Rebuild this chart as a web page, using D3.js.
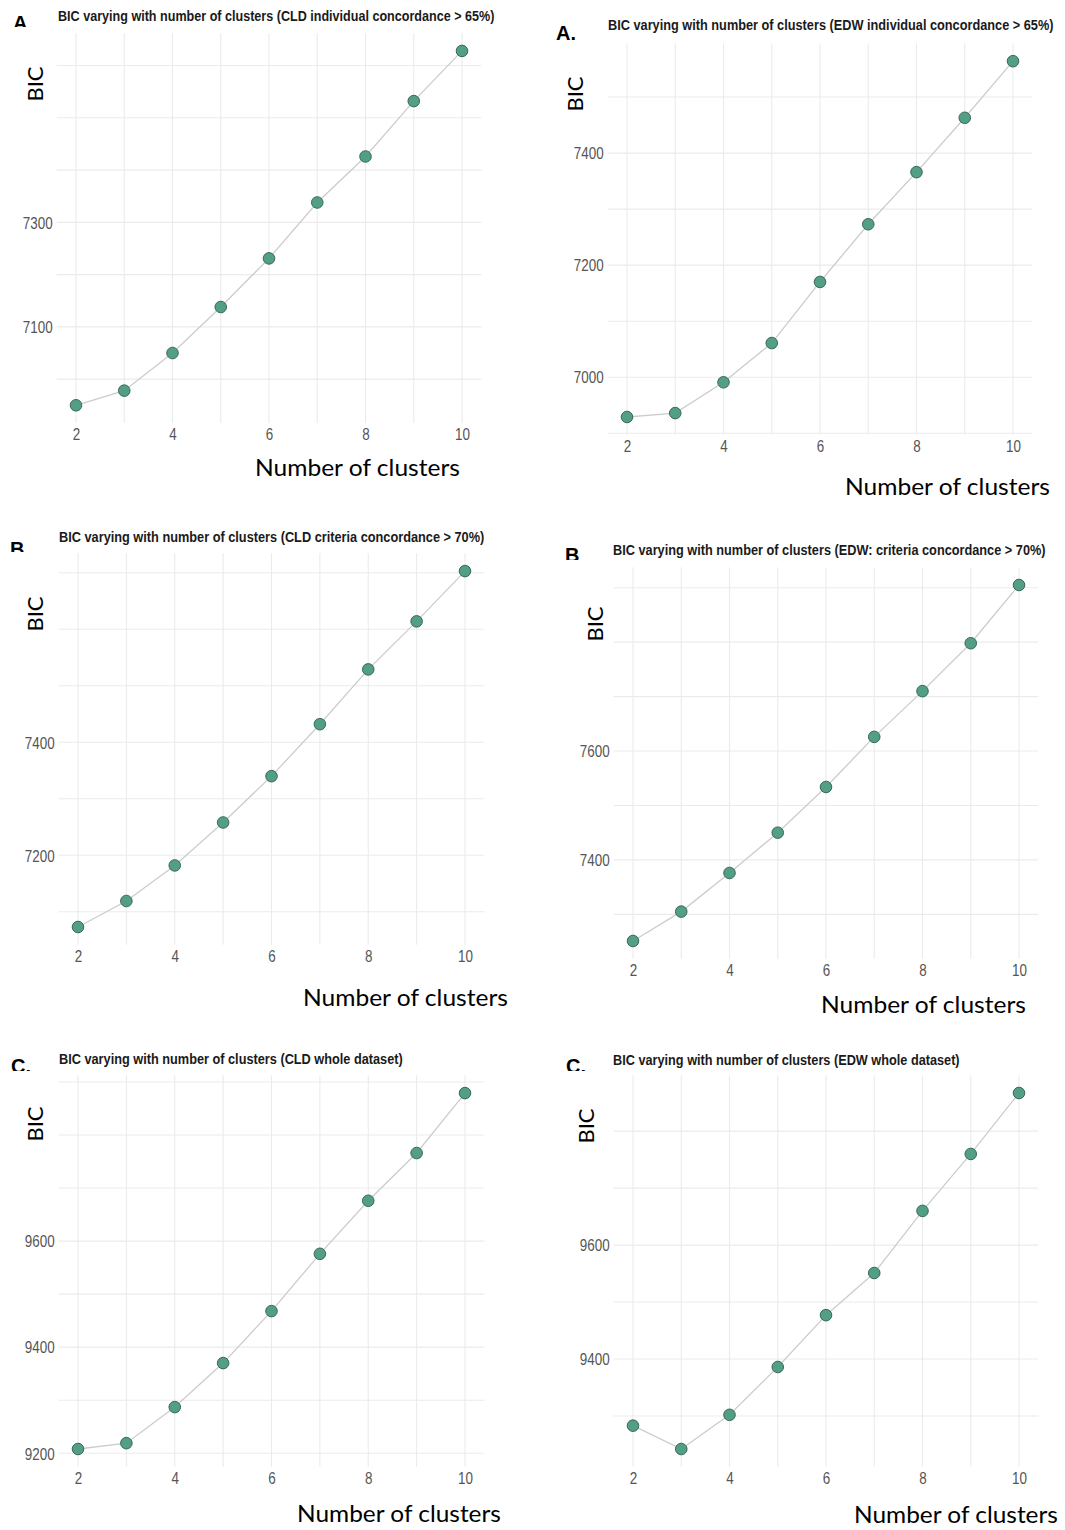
<!DOCTYPE html>
<html>
<head>
<meta charset="utf-8">
<script src="https://cdn.jsdelivr.net/npm/d3@7"></script>
<style>
  html, body { margin: 0; padding: 0; background: #ffffff; }
  svg { display: block; }
</style>
</head>
<body>
<svg id="chart" width="1065" height="1530"></svg>
<script>
// ---------- DATA ----------
const clusters = [2, 3, 4, 5, 6, 7, 8, 9, 10];
const xTickLabels = [2, 4, 6, 8, 10];

const bicCldIndividual = [6950, 6978, 7050, 7138, 7231, 7338, 7426, 7532, 7628];
const bicEdwIndividual = [6929, 6936, 6991, 7061, 7170, 7273, 7366, 7463, 7564];
const bicCldCriteria   = [7073, 7119, 7182, 7258, 7340, 7432, 7529, 7614, 7703];
const bicEdwCriteria   = [7251, 7305, 7376, 7450, 7534, 7626, 7710, 7798, 7905];
const bicCldWhole      = [9208, 9219, 9287, 9370, 9468, 9576, 9676, 9766, 9879];
const bicEdwWhole      = [9283, 9242, 9302, 9386, 9477, 9551, 9660, 9760, 9867];

const yTicksCldIndividual = [7100, 7300];
const yTicksEdwIndividual = [7000, 7200, 7400];
const yTicksCldCriteria   = [7200, 7400];
const yTicksEdwCriteria   = [7400, 7600];
const yTicksCldWhole      = [9200, 9400, 9600];
const yTicksEdwWhole      = [9400, 9600];

const panelTitles = [
  "BIC varying with number of clusters (CLD individual concordance > 65%)",
  "BIC varying with number of clusters (EDW individual concordance > 65%)",
  "BIC varying with number of clusters (CLD criteria concordance > 70%)",
  "BIC varying with number of clusters (EDW: criteria concordance > 70%)",
  "BIC varying with number of clusters (CLD whole dataset)",
  "BIC varying with number of clusters (EDW whole dataset)"
];
const panelLetters = ["A.", "A.", "B.", "B", "C.", "C."];
const yAxisTitle = "BIC";
const xAxisTitle = "Number of clusters";

// ---------- LAYOUT ----------
const series = [bicCldIndividual, bicEdwIndividual, bicCldCriteria, bicEdwCriteria, bicCldWhole, bicEdwWhole];
const yTickSets = [yTicksCldIndividual, yTicksEdwIndividual, yTicksCldCriteria, yTicksEdwCriteria, yTicksCldWhole, yTicksEdwWhole];

const layout = [
  { left: 56.7, right: 481.3, top: 33.2, bottom: 423,
    title: { x: 58, y: 21, w: 437 },
    letter: { x: 13, y: 30, clip: 27 },
    bic: { x: 35, y: 84 },
    xlab: { x: 255, y: 476, w: 205 } },
  { left: 607.7, right: 1032.3, top: 43.4, bottom: 434.8,
    title: { x: 608, y: 30, w: 446 },
    letter: { x: 556, y: 40, clip: 60 },
    bic: { x: 575, y: 94 },
    xlab: { x: 845, y: 495, w: 205 } },
  { left: 58.65, right: 484.35, top: 553.3, bottom: 944.8,
    title: { x: 59, y: 542, w: 426 },
    letter: { x: 10, y: 556, clip: 552 },
    bic: { x: 35, y: 614 },
    xlab: { x: 303, y: 1006, w: 205 } },
  { left: 613.7, right: 1038.3, top: 567.2, bottom: 958.8,
    title: { x: 613, y: 555, w: 433 },
    letter: { x: 565, y: 562, clip: 560 },
    bic: { x: 595, y: 624 },
    xlab: { x: 821, y: 1013, w: 205 } },
  { left: 58.65, right: 484.35, top: 1075.3, bottom: 1466.8,
    title: { x: 59, y: 1064, w: 344 },
    letter: { x: 11, y: 1073, clip: 1071 },
    bic: { x: 35, y: 1124 },
    xlab: { x: 297, y: 1522, w: 204 } },
  { left: 613.7, right: 1038.3, top: 1075.2, bottom: 1466.8,
    title: { x: 613, y: 1065, w: 347 },
    letter: { x: 566, y: 1073, clip: 1071 },
    bic: { x: 586, y: 1126 },
    xlab: { x: 854, y: 1523, w: 204 } }
];

const sansFont = "'Liberation Sans', Arial, Helvetica, sans-serif";
const humanist = "Lato, 'Open Sans', 'Noto Sans', sans-serif";
const TICK_SQUEEZE = 0.84;

const svg = d3.select("#chart");
const defs = svg.append("defs");

// place a text at (x,y), horizontally scaled so its rendered width equals w
function fitted(g, x, y, w, str) {
  const t = g.append("text").attr("x", 0).attr("y", 0).text(str);
  return { t, finish: () => {
    const nat = t.node().getComputedTextLength();
    const s = w / nat;
    t.attr("transform", `translate(${x},${y}) scale(${s},1)`);
    return t;
  }};
}

series.forEach((vals, i) => {
  const L = layout[i];
  const g = svg.append("g");

  // scales (ggplot-like 5% expansion)
  const xExt = d3.extent(clusters);
  const xPad = (xExt[1] - xExt[0]) * 0.05;
  const x = d3.scaleLinear().domain([xExt[0] - xPad, xExt[1] + xPad]).range([L.left, L.right]);
  const yExt = d3.extent(vals);
  const yPad = (yExt[1] - yExt[0]) * 0.05;
  const y = d3.scaleLinear().domain([yExt[0] - yPad, yExt[1] + yPad]).range([L.bottom, L.top]);

  // grid lines
  const yGrid = d3.range(Math.ceil(y.domain()[0] / 100) * 100, y.domain()[1], 100);
  g.append("g").selectAll("line").data(yGrid).join("line")
    .attr("x1", L.left).attr("x2", L.right)
    .attr("y1", d => y(d)).attr("y2", d => y(d))
    .attr("stroke", "#ebebeb").attr("stroke-width", 1.1);
  g.append("g").selectAll("line").data(clusters).join("line")
    .attr("x1", d => x(d)).attr("x2", d => x(d))
    .attr("y1", L.top).attr("y2", L.bottom)
    .attr("stroke", "#ebebeb").attr("stroke-width", 1.1);

  // axes via d3 axis generators (no domain lines / tick marks)
  const xAxis = d3.axisBottom(x).tickValues(xTickLabels).tickSize(0).tickPadding(0).tickFormat(d3.format("d"));
  const xg = g.append("g").attr("transform", `translate(0,${L.bottom})`).call(xAxis);
  xg.select(".domain").remove();
  xg.selectAll("text").attr("dy", null).attr("y", 17.5)
    .attr("font-family", sansFont).attr("font-size", 16).attr("fill", "#555555")
    .attr("transform", `scale(${TICK_SQUEEZE},1)`);

  const yAxis = d3.axisLeft(y).tickValues(yTickSets[i]).tickSize(0).tickPadding(4).tickFormat(d3.format("d"));
  const yg = g.append("g").attr("transform", `translate(${L.left},0)`).call(yAxis);
  yg.select(".domain").remove();
  yg.selectAll("text").attr("dy", "0.36em").attr("x", -4 / TICK_SQUEEZE)
    .attr("font-family", sansFont).attr("font-size", 16).attr("fill", "#555555")
    .attr("transform", `scale(${TICK_SQUEEZE},1)`);

  // line + points
  const pts = clusters.map((c, k) => [c, vals[k]]);
  g.append("path").datum(pts)
    .attr("fill", "none").attr("stroke", "#cccccc").attr("stroke-width", 1.3)
    .attr("d", d3.line().x(d => x(d[0])).y(d => y(d[1])));
  g.append("g").selectAll("circle").data(pts).join("circle")
    .attr("cx", d => x(d[0])).attr("cy", d => y(d[1])).attr("r", 5.8)
    .attr("fill", "#539f84").attr("stroke", "#2f5e4d").attr("stroke-width", 0.9);

  // title
  const ti = fitted(g, L.title.x, L.title.y, L.title.w, panelTitles[i]);
  ti.t.attr("font-family", sansFont).attr("font-weight", "bold").attr("font-size", 14).attr("fill", "#1a1a1a");
  ti.finish();

  // panel letter (clipped like the cropped original)
  const cid = "clip" + i;
  defs.append("clipPath").attr("id", cid).append("rect")
    .attr("x", L.letter.x - 5).attr("y", L.letter.y - 30).attr("width", 40).attr("height", L.letter.clip - (L.letter.y - 30));
  g.append("text").attr("x", L.letter.x).attr("y", L.letter.y)
    .attr("clip-path", `url(#${cid})`)
    .attr("font-family", sansFont).attr("font-weight", "bold").attr("font-size", 20)
    .attr("fill", "#000").text(panelLetters[i]);

  // y axis title
  g.append("text").attr("transform", `translate(${L.bic.x},${L.bic.y}) rotate(-90)`)
    .attr("text-anchor", "middle").attr("dy", "0.36em")
    .attr("font-family", humanist).attr("font-size", 22).attr("fill", "#000")
    .text(yAxisTitle);

  // x axis title
  const xl = fitted(g, L.xlab.x, L.xlab.y, L.xlab.w, xAxisTitle);
  xl.t.attr("font-family", humanist).attr("font-size", 24).attr("fill", "#000");
  xl.finish();
});
</script>
</body>
</html>
